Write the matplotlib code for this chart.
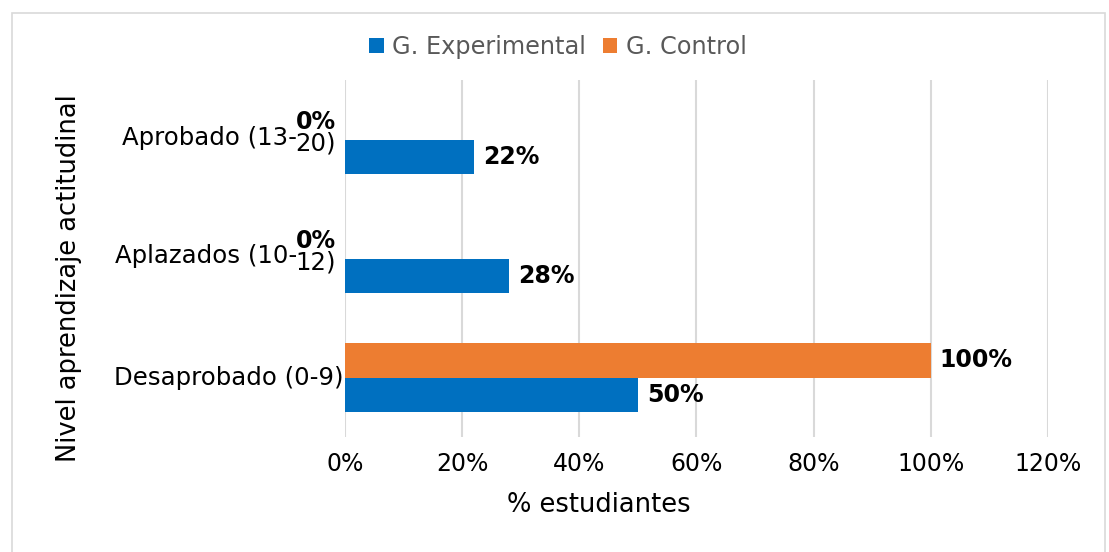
import matplotlib
matplotlib.use("Agg")
import matplotlib.pyplot as plt
from matplotlib.patches import Rectangle
from matplotlib.ticker import FuncFormatter
import numpy as np

# data (bottom to top)
categories = ["Desaprobado (0-9)", "Aplazados (10-12)", "Aprobado (13-20)"]
wrap_tail = ["", "12)", "20)"]          # part that Excel pushed to a 2nd line
experimental = [50, 28, 22]
control = [100, 0, 0]
series_names = ["G. Experimental", "G. Control"]
xticks = [0, 20, 40, 60, 80, 100, 120]

c_exp = "#0070C0"
c_ctl = "#ED7D31"
fs = 17
fs_cat = 17.6
fs_lab = 18.5
px = 0.72  # points per pixel at dpi 100

plt.rcParams["font.family"] = "DejaVu Sans"

fig = plt.figure(figsize=(11.09, 5.52), dpi=100)
ax = fig.add_axes([345/1109, 1 - 437/552, (1048 - 345)/1109, (437 - 80)/552])

y = np.arange(len(categories))
h = 0.286
b_exp = ax.barh(y - h/2, experimental, height=h, color=c_exp, label=series_names[0], zorder=3)
b_ctl = ax.barh(y + h/2, control, height=h, color=c_ctl, label=series_names[1], zorder=3)

ax.set_xlim(0, 120)
ax.set_ylim(-0.5, len(categories) - 0.5)
ax.set_xticks(xticks)
ax.xaxis.set_major_formatter(FuncFormatter(lambda v, p: f"{v:.0f}%"))
ax.set_yticks([])
ax.tick_params(axis="x", length=0, pad=11, labelsize=fs)
for s in ax.spines.values():
    s.set_visible(False)
ax.grid(axis="x", color="#D9D9D9", lw=1.5, zorder=0)

# value labels
for bars, vals in ((b_exp, experimental), (b_ctl, control)):
    for rect, v in zip(bars, vals):
        yc = rect.get_y() + rect.get_height()/2
        if v > 0:
            ax.annotate(f"{v}%", (v, yc), xytext=(9*px, 0), textcoords="offset points",
                        ha="left", va="center", fontsize=fs, fontweight="bold", zorder=4)
        else:
            ax.annotate(f"{v}%", (0, yc), xytext=(-9*px, 0), textcoords="offset points",
                        ha="right", va="center", fontsize=fs, fontweight="bold",
                        annotation_clip=False, zorder=4)

# category labels
for yi, lab, tail in zip(y, categories, wrap_tail):
    if tail:
        t2 = ax.annotate(tail, (0, yi), xytext=(-9*px, -4*px), textcoords="offset points",
                         ha="right", va="center", fontsize=fs_cat, annotation_clip=False)
        head = lab[:len(lab) - len(tail)]
        ax.annotate(head, xy=(0, 0.5), xycoords=t2, xytext=(2*px, 6*px),
                    textcoords="offset points", ha="right", va="center", fontsize=fs_cat)
    else:
        ax.annotate(lab, (0, yi), xytext=(-2*px, 0), textcoords="offset points",
                    ha="right", va="center", fontsize=fs_cat, annotation_clip=False)

fig.text(69/1109, 1 - 278/552, "Nivel aprendizaje actitudinal", rotation=90,
         ha="center", va="center", fontsize=fs_lab)
fig.text(599/1109, 1 - 505/552, "% estudiantes", ha="center", va="center", fontsize=fs_lab)

leg = fig.legend(handles=[b_exp, b_ctl], loc="center", bbox_to_anchor=(558/1109, 1 - 47/552),
                 ncol=2, frameon=False, fontsize=17.3, handlelength=0.6, handleheight=0.6,
                 handletextpad=0.35, columnspacing=0.7)
for t in leg.get_texts():
    t.set_color("#595959")

fig.patches.append(Rectangle((12/1109, -0.02), 1093/1109, 1.02 - 13/552, transform=fig.transFigure,
                             fill=False, edgecolor="#D9D9D9", lw=1.2))

fig.savefig("out.png", dpi=100)
